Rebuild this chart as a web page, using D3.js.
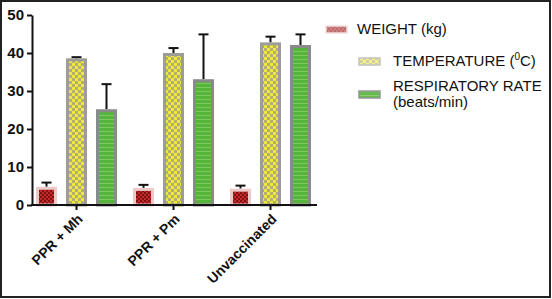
<!DOCTYPE html>
<html>
<head>
<meta charset="utf-8">
<script src="https://cdn.jsdelivr.net/npm/d3@7"></script>
<style>
  html, body { margin: 0; padding: 0; background: #fff; }
  svg { display: block; font-family: "Liberation Sans", Arial, sans-serif; }
</style>
</head>
<body>
<div id="chart"></div>
<script>
(function () {
  const W = 552, H = 299;

  // data
  const groups = ["PPR + Mh", "PPR + Pm", "Unvaccinated"];
  const series = ["weight", "temp", "resp"];
  const weightMean = [4.8, 4.5, 4.3];
  const weightErr = [1.1, 0.8, 0.8];
  const tempMean = [38.6, 40.0, 42.8];
  const tempErr = [0.3, 1.3, 1.5];
  const respMean = [25.2, 33.1, 42.1];
  const respErr = [6.6, 11.8, 2.8];
  const yTicks = [0, 10, 20, 30, 40, 50];

  const means = { weight: weightMean, temp: tempMean, resp: respMean };
  const errs = { weight: weightErr, temp: tempErr, resp: respErr };

  const svg = d3.select("#chart").append("svg")
    .attr("width", W).attr("height", H);

  // ---- patterns ----
  const defs = svg.append("defs");

  const pWeight = defs.append("pattern").attr("id", "pWeight")
    .attr("patternUnits", "userSpaceOnUse").attr("width", 4).attr("height", 4);
  pWeight.append("rect").attr("width", 4).attr("height", 4).attr("fill", "#c42a2a");
  pWeight.append("rect").attr("width", 2).attr("height", 2).attr("fill", "#7e1212");
  pWeight.append("rect").attr("x", 2).attr("y", 2).attr("width", 2).attr("height", 2).attr("fill", "#7e1212");

  const pTemp = defs.append("pattern").attr("id", "pTemp")
    .attr("patternUnits", "userSpaceOnUse").attr("width", 6).attr("height", 6);
  pTemp.append("rect").attr("width", 6).attr("height", 6).attr("fill", "#eee83a");
  pTemp.append("rect").attr("width", 3).attr("height", 3).attr("fill", "#b4ae72");
  pTemp.append("rect").attr("x", 3).attr("y", 3).attr("width", 3).attr("height", 3).attr("fill", "#b4ae72");

  const pResp = defs.append("pattern").attr("id", "pResp")
    .attr("patternUnits", "userSpaceOnUse").attr("width", 4).attr("height", 4);
  pResp.append("rect").attr("width", 4).attr("height", 4).attr("fill", "#55b43a");
  pResp.append("rect").attr("y", 3).attr("width", 4).attr("height", 1).attr("fill", "#80c860");

  const fills = { weight: "url(#pWeight)", temp: "url(#pTemp)", resp: "url(#pResp)" };
  const strokes = { weight: "#eccaca", temp: "#9c9c98", resp: "#8a8a8a" };

  // ---- scales ----
  const y = d3.scaleLinear().domain([0, 50]).range([205, 15]);
  const x = d3.scaleBand().domain(groups).range([28, 319]).padding(0);
  const xs = d3.scaleBand().domain(series).range([-40.5, 40.5]).paddingInner(0.3);

  // ---- frame ----
  svg.append("rect")
    .attr("x", 1).attr("y", 1).attr("width", W - 3).attr("height", H - 3)
    .attr("fill", "none").attr("stroke", "#222").attr("stroke-width", 2);

  // ---- bars ----
  const g = svg.append("g");
  groups.forEach((grp, gi) => {
    const cx = x(grp) + x.bandwidth() / 2;
    series.forEach((s) => {
      const v = means[s][gi];
      const e = errs[s][gi];
      const bx = cx + xs(s);
      const bw = xs.bandwidth();
      const top = y(v + e);
      // error bar (drawn first so the bar sits over its lower half)
      g.append("line")
        .attr("x1", bx + bw / 2).attr("x2", bx + bw / 2)
        .attr("y1", y(v)).attr("y2", top)
        .attr("stroke", "#111").attr("stroke-width", 2);
      g.append("line")
        .attr("x1", bx + bw / 2 - 5).attr("x2", bx + bw / 2 + 5)
        .attr("y1", top).attr("y2", top)
        .attr("stroke", "#111").attr("stroke-width", 2);
      g.append("rect")
        .attr("x", bx + 1.5).attr("y", y(v) + 1.5)
        .attr("width", bw - 3).attr("height", Math.max(0, y(0) - y(v) - 1.5))
        .attr("fill", fills[s])
        .attr("stroke", strokes[s]).attr("stroke-width", 3);
    });
  });

  // ---- axes ----
  const yAxis = svg.append("g")
    .attr("transform", "translate(32,0)")
    .call(d3.axisLeft(y).tickValues(yTicks).tickSize(5).tickSizeOuter(0).tickPadding(3));
  yAxis.select(".domain").attr("stroke", "#111").attr("stroke-width", 2);
  yAxis.selectAll(".tick line").attr("stroke", "#111").attr("stroke-width", 2);
  yAxis.selectAll(".tick text")
    .attr("fill", "#111").style("font-size", "15px").style("font-weight", "bold")
    .attr("font-family", null);

  const xAxis = svg.append("g")
    .attr("transform", "translate(0,205)")
    .call(d3.axisBottom(x).tickSize(5).tickSizeOuter(0));
  xAxis.select(".domain").attr("d", "M31,0H317").attr("stroke", "#111").attr("stroke-width", 2);
  xAxis.selectAll(".tick line").attr("stroke", "#111").attr("stroke-width", 2);
  xAxis.selectAll(".tick text")
    .attr("fill", "#111").style("font-size", "14px").style("font-weight", "bold")
    .attr("font-family", null)
    .attr("text-anchor", "end")
    .attr("dy", null).attr("y", 0)
    .attr("transform", "translate(7,15) rotate(-45)");

  // ---- legend ----
  const legend = svg.append("g");
  const legendItems = [
    { key: "weight", sx: 326, sy: 26, lines: ["WEIGHT (kg)"], tx: 357, ty: 34 },
    { key: "temp", sx: 359, sy: 58, lines: ["TEMPERATURE (", "C)"], tx: 393, ty: 66 },
    { key: "resp", sx: 359, sy: 91, lines: ["RESPIRATORY RATE", "(beats/min)"], tx: 393, ty: 91 }
  ];
  legendItems.forEach((it) => {
    legend.append("rect")
      .attr("x", it.sx).attr("y", it.sy).attr("width", 21).attr("height", 7)
      .attr("fill", fills[it.key]).attr("opacity", it.key === "resp" ? 0.9 : 0.6)
      .attr("stroke", strokes[it.key]).attr("stroke-width", 1.5);
    const t = legend.append("text")
      .attr("x", it.tx).attr("y", it.ty)
      .attr("fill", "#111").style("font-size", "15px");
    if (it.key === "temp") {
      t.append("tspan").text(it.lines[0]);
      t.append("tspan").attr("dy", -6).style("font-size", "10px").text("0");
      t.append("tspan").attr("dy", 6).text(it.lines[1]);
    } else if (it.key === "resp") {
      t.append("tspan").text(it.lines[0]);
      t.append("tspan").attr("x", it.tx).attr("dy", 16).text(it.lines[1]);
    } else {
      t.text(it.lines[0]);
    }
  });
})();
</script>
</body>
</html>
